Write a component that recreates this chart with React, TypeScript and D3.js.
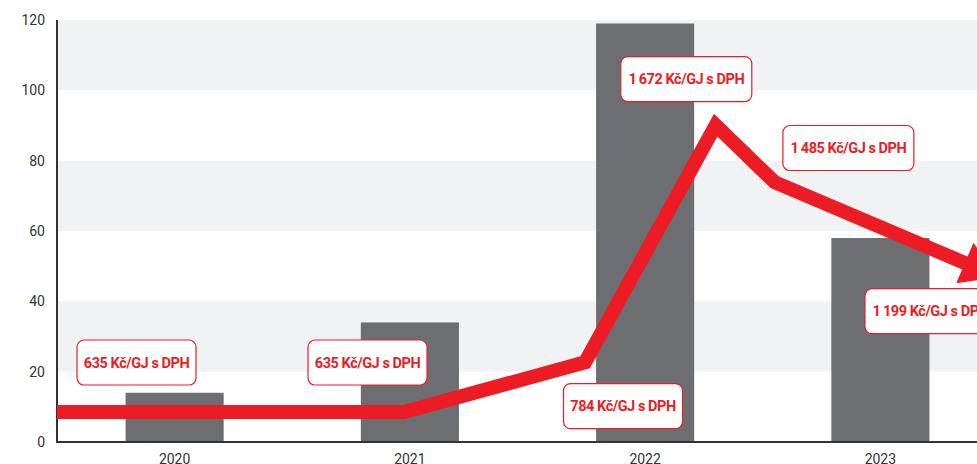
import * as d3 from "d3";

const years = ["2020", "2021", "2022", "2023"];
const barValues = [14, 34, 119, 58];
const yTicks = [0, 20, 40, 60, 80, 100, 120];
const bandRanges = [[20, 40], [60, 80], [100, 120]];

// price line, x in fractional year positions (0 = 2020 centre)
const lineX = [-0.5, 0.975, 1.745, 2.3, 2.55, 3.5];
const lineY = [8.5, 8.5, 22.7, 90.1, 73.9, 46.9];

const labelText = [
    "635 Kč/GJ s DPH",
    "635 Kč/GJ s DPH",
    "784 Kč/GJ s DPH",
    "1\u2009672 Kč/GJ s DPH",
    "1\u2009485 Kč/GJ s DPH",
    "1\u2009199 Kč/GJ s DPH",
];
const labelX = [-0.162, 0.82, 1.906, 2.175, 2.864, 3.213];
const labelY = [22.6, 22.6, 10.2, 103.2, 83.6, 37.2];

const W = 977;
const H = 464;
const RED = "#ed1c24";

export default function App() {
    const left = 57;
    const x = d3.scaleBand().domain(years).range([left, left + 941]).paddingInner(0.583).paddingOuter(0.2915);
    const step = x.step();
    const cx = (p: number) => (x("2020") as number) + x.bandwidth() / 2 + p * step;
    const y = d3.scaleLinear().domain([0, 120]).range([442, 20]);

    const pts: [number, number][] = lineX.map((p, i) => [cx(p), y(lineY[i])]);
    // arrow head
    const tip = pts[pts.length - 1];
    const prev = pts[pts.length - 2];
    const dx = tip[0] - prev[0], dy = tip[1] - prev[1];
    const len = Math.hypot(dx, dy);
    const ux = dx / len, uy = dy / len;
    const headLen = 36, headHalf = 22;
    const base: [number, number] = [tip[0] - ux * headLen, tip[1] - uy * headLen];
    const linePts = [...pts.slice(0, -1), [base[0] + ux * 2, base[1] + uy * 2] as [number, number]];
    const head = [
        tip,
        [base[0] - uy * headHalf, base[1] + ux * headHalf],
        [base[0] + uy * headHalf, base[1] - ux * headHalf],
    ];
    const line = d3.line();

    return (
        <svg width={W} height={H} style={{ position: "absolute", left: 0, top: 0, background: "#fff" }}>
            {bandRanges.map(([a, b]) => (
                <rect key={a} x={left} y={y(b)} width={W - left} height={y(a) - y(b)} fill="#f1f2f4" />
            ))}
            {years.map((yr, i) => (
                <rect key={yr} x={x(yr)} y={y(barValues[i])} width={x.bandwidth()} height={y(0) - y(barValues[i])} fill="#6d6e71" />
            ))}
            <line x1={left} x2={left} y1={y(120)} y2={y(0) + 1} stroke="#333" strokeWidth={2} />
            <line x1={left} x2={W} y1={y(0)} y2={y(0)} stroke="#333" strokeWidth={2} />
            {yTicks.map((t) => (
                <text key={t} x={45} y={y(t)} dy="0.35em" textAnchor="end" fontFamily="Roboto" fontSize={14} fill="#333">
                    {t}
                </text>
            ))}
            {years.map((yr) => (
                <text key={yr} x={(x(yr) as number) + x.bandwidth() / 2} y={464} textAnchor="middle" fontFamily="Roboto" fontSize={14} fill="#333">
                    {yr}
                </text>
            ))}
            <path d={line(linePts) || ""} fill="none" stroke={RED} strokeWidth={14} strokeLinejoin="miter" strokeMiterlimit={10} />
            <polygon points={head.map((p) => p.join(",")).join(" ")} fill={RED} />
            {labelText.map((t, i) => {
                const w = t.startsWith("1") ? 131 : 119;
                const bx = cx(labelX[i]);
                const by = y(labelY[i]);
                return (
                    <g key={i}>
                        <rect x={bx - w / 2} y={by - 22.5} width={w} height={45} rx={7} fill="#fff" stroke={RED} strokeWidth={1.2} />
                        <text x={bx} y={by} dy="0.36em" textAnchor="middle" fontFamily="Roboto" fontWeight={700} fontSize={14.5} letterSpacing={-0.45} fill={RED}>
                            {t}
                        </text>
                    </g>
                );
            })}
        </svg>
    );
}
